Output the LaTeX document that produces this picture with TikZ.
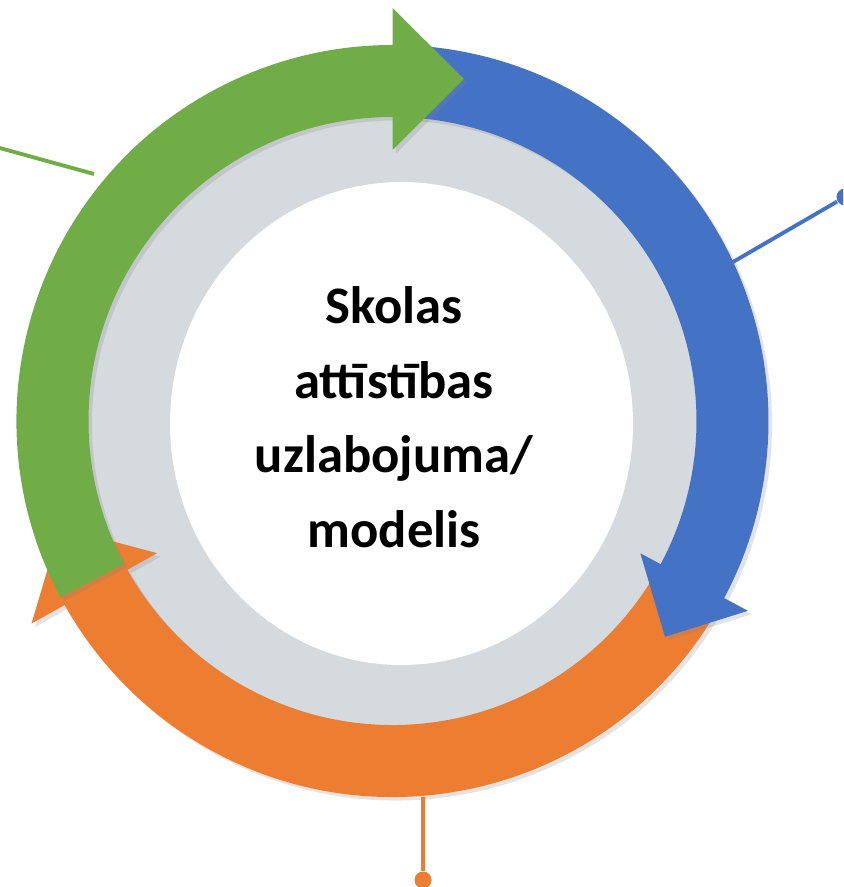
\documentclass[tikz,border=0pt]{standalone}
\usepackage{fontspec}
\setmainfont{Carlito}
\usetikzlibrary{calc,shadows}

\definecolor{ringgreen}{HTML}{70AD47}
\definecolor{ringblue}{HTML}{4472C4}
\definecolor{ringorange}{HTML}{ED7D31}
\definecolor{ringgray}{HTML}{D5DADE}

\tikzset{
	arrowpart/.style={drop shadow={opacity=0.22, shadow xshift=0.035, shadow yshift=-0.035}},
	callout/.style={line width=1.1pt},
	dotmark/.style={circle, inner sep=0pt, minimum size=0.17cm},
}

\begin{document}
\begin{tikzpicture}

	\clip (-3.925,-4.66) rectangle (4.505,4.21);

	% inner disc
	\fill[ringgray] (0,0) circle (3.1);
	\fill[white] (0.09,-0.025) ellipse (2.315 and 2.415);

	\fill[ringorange, arrowpart] (-30:3.76) arc[start angle=-30, end angle=-150.7, radius=3.76]
		-- (209.3:4.14) -- ($(209.3:3.42)+(119.3:0.7)$) -- (209.3:2.70)
		-- (209.3:3.04) arc[start angle=-150.7, end angle=-30, radius=3.04] -- cycle;

	\fill[ringblue, arrowpart] (86:3.76) arc[start angle=86, end angle=-28.1, radius=3.76]
		-- (-28.1:4.03) -- ($(-28.1:3.42)+(-118.1:0.62)$) -- (-28.1:2.81)
		-- (-28.1:3.04) arc[start angle=-28.1, end angle=86, radius=3.04] -- cycle;

	\fill[ringgreen, arrowpart] (208:3.76) arc[start angle=208, end angle=90, radius=3.76]
		-- (90:4.13) -- ($(90:3.42)+(0:0.715)$) -- (90:2.71)
		-- (90:3.04) arc[start angle=90, end angle=208, radius=3.04] -- cycle;

	\node[font=\bfseries\fontsize{15}{21.2}\selectfont, align=center] (title) at (0.015,0.04)
		{Skolas\\attīstības\\uzlabojuma/\\modelis};

	% callouts
	\coordinate (gstart) at (-4.0,2.75);
	\coordinate (gend) at (-2.985,2.47);
	\draw[callout, ringgreen] (gstart) -- (gend);

	\node[dotmark, fill=ringblue] (bdot) at (4.525,2.24) {};
	\coordinate (bend) at (3.405,1.59);
	\draw[callout, ringblue] (bdot) -- (bend);

	\node[dotmark, fill=ringorange] (odot) at (0.305,-4.59) {};
	\coordinate (oend) at (0.305,-3.76);
	\draw[callout, ringorange] (odot) -- (oend);

\end{tikzpicture}
\end{document}
